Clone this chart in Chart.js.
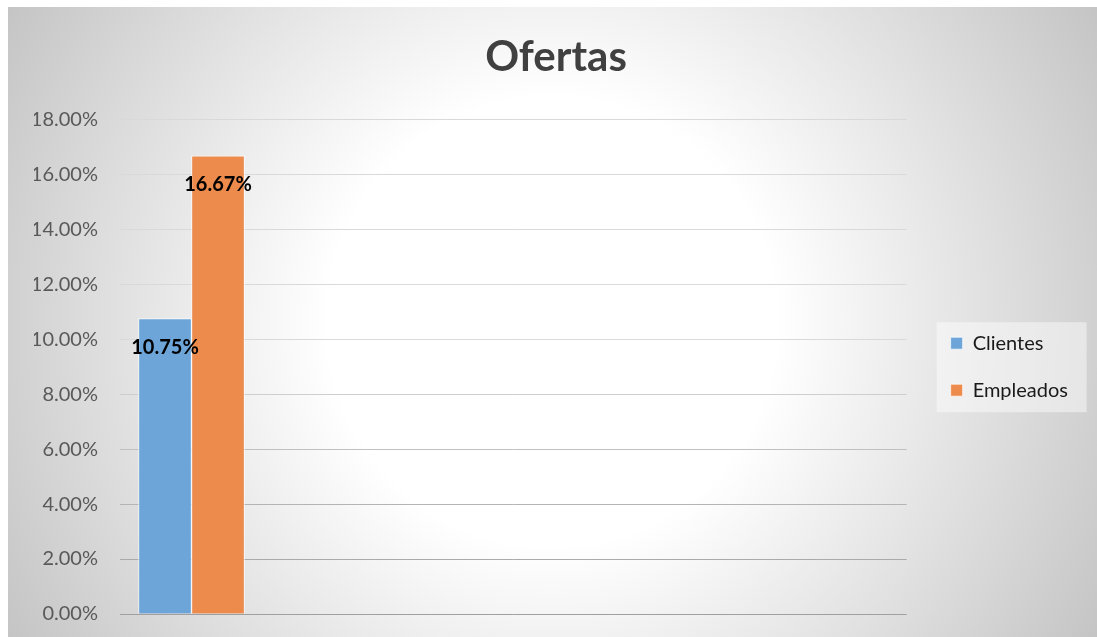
<!DOCTYPE html>
<html lang="es">
<head>
  <meta charset="UTF-8" />
  <title>Ofertas</title>
  <script src="https://cdn.jsdelivr.net/npm/chart.js"></script>
  <style>
    html, body {
      margin: 0;
      padding: 0;
      background: #ffffff;
    }

    .chart-container {
      position: relative;
      width: 1097px;
      height: 637px;
    }
  </style>
</head>
<body>
  <div class="chart-container">
    <canvas id="ofertasChart"></canvas>
  </div>

  <script>
    // Datos
    const categories = ['Ofertas'];
    const seriesNames = ['Clientes', 'Empleados'];
    const clientes = [10.75];
    const empleados = [16.67];
    const yTicks = [0, 2, 4, 6, 8, 10, 12, 14, 16, 18];

    // El eje X de Excel deja la categoría a la izquierda: 12 posiciones, la nuestra en la 2ª
    const slots = 12;
    const pad = arr => [null, ...arr, ...Array(slots - 1 - arr.length).fill(null)];
    const padLabels = arr => ['', ...arr, ...Array(slots - 1 - arr.length).fill('')];

    function gridColor(v) {
      if (v <= 0) return '#a0a0a0';
      if (v <= 2) return '#aaaaaa';
      if (v <= 4) return '#b4b4b4';
      if (v <= 6) return '#c0c0c0';
      if (v <= 8) return '#cecece';
      return '#d9d9d9';
    }

    // Fondo degradado radial + recuadro de la leyenda
    const background = {
      id: 'background',
      beforeDraw(chart) {
        const ctx = chart.ctx;
        const w = chart.width, h = chart.height;
        ctx.save();
        ctx.fillStyle = '#ffffff';
        ctx.fillRect(0, 0, w, h);
        const cx = 552, cy = 322;
        const g = ctx.createRadialGradient(cx, cy, 0, cx, cy, 640);
        g.addColorStop(0, '#ffffff');
        g.addColorStop(0.35, '#ffffff');
        g.addColorStop(1, '#c3c3c3');
        ctx.fillStyle = g;
        ctx.fillRect(8, 7, w - 8, h - 7);

        const boxes = chart.legend && chart.legend.legendHitBoxes;
        if (boxes && boxes.length) {
          const first = boxes[0], last = boxes[boxes.length - 1];
          ctx.fillStyle = 'rgba(255, 255, 255, 0.45)';
          ctx.fillRect(first.left - 14, first.top - 11, 150, last.top + last.height - first.top + 23);
        }
        ctx.restore();
      }
    };

    // Etiquetas de datos dentro del extremo de cada barra
    const dataLabels = {
      id: 'dataLabels',
      afterDatasetsDraw(chart) {
        const ctx = chart.ctx;
        ctx.save();
        ctx.font = 'bold 20px Lato';
        ctx.fillStyle = '#000000';
        ctx.textAlign = 'center';
        ctx.textBaseline = 'middle';
        chart.data.datasets.forEach((ds, i) => {
          chart.getDatasetMeta(i).data.forEach((bar, j) => {
            const v = ds.data[j];
            if (v == null) return;
            ctx.fillText(v.toFixed(2) + '%', bar.x, bar.y + 29);
          });
        });
        ctx.restore();
      }
    };

    const ctx = document.getElementById('ofertasChart').getContext('2d');
    new Chart(ctx, {
      type: 'bar',
      data: {
        labels: padLabels(categories),
        datasets: [{
          label: seriesNames[0],
          data: pad(clientes),
          backgroundColor: '#6da5d8',
          borderColor: 'rgba(255, 255, 255, 0.7)',
          borderWidth: 1
        }, {
          label: seriesNames[1],
          data: pad(empleados),
          backgroundColor: '#ec8b4c',
          borderColor: 'rgba(255, 255, 255, 0.7)',
          borderWidth: 1
        }]
      },
      options: {
        responsive: true,
        maintainAspectRatio: false,
        animation: false,
        barThickness: 53,
        layout: {
          padding: { top: 7, left: 34, right: 19, bottom: 23 }
        },
        scales: {
          x: {
            display: false,
            offset: false
          },
          y: {
            min: yTicks[0],
            max: yTicks[yTicks.length - 1],
            afterBuildTicks(scale) {
              scale.ticks = yTicks.map(v => ({ value: v }));
            },
            afterFit(scale) {
              scale.width = 86;
              scale.paddingTop = 12;
              scale.paddingBottom = 12;
            },
            ticks: {
              padding: 22,
              color: '#595959',
              font: { family: 'Lato', size: 20 },
              callback: v => v.toFixed(2) + '%'
            },
            grid: {
              drawTicks: false,
              color: c => gridColor(c.tick ? c.tick.value : 0),
              lineWidth: 1
            },
            border: { display: false }
          },
          gap: {
            position: 'right',
            display: true,
            ticks: { display: false },
            grid: { display: false },
            border: { display: false },
            afterFit(scale) {
              scale.width = 17;
            }
          }
        },
        plugins: {
          title: {
            display: true,
            text: categories[0],
            color: '#404040',
            font: { family: 'Lato', size: 42, weight: 'bold' },
            padding: { top: 25, bottom: 37 }
          },
          legend: {
            position: 'right',
            fullSize: false,
            labels: {
              boxWidth: 12,
              boxHeight: 12,
              padding: 27,
              color: '#1a1a1a',
              font: { family: 'Lato', size: 20 }
            }
          },
          tooltip: { enabled: false }
        }
      },
      plugins: [background, dataLabels]
    });
  </script>
</body>
</html>
